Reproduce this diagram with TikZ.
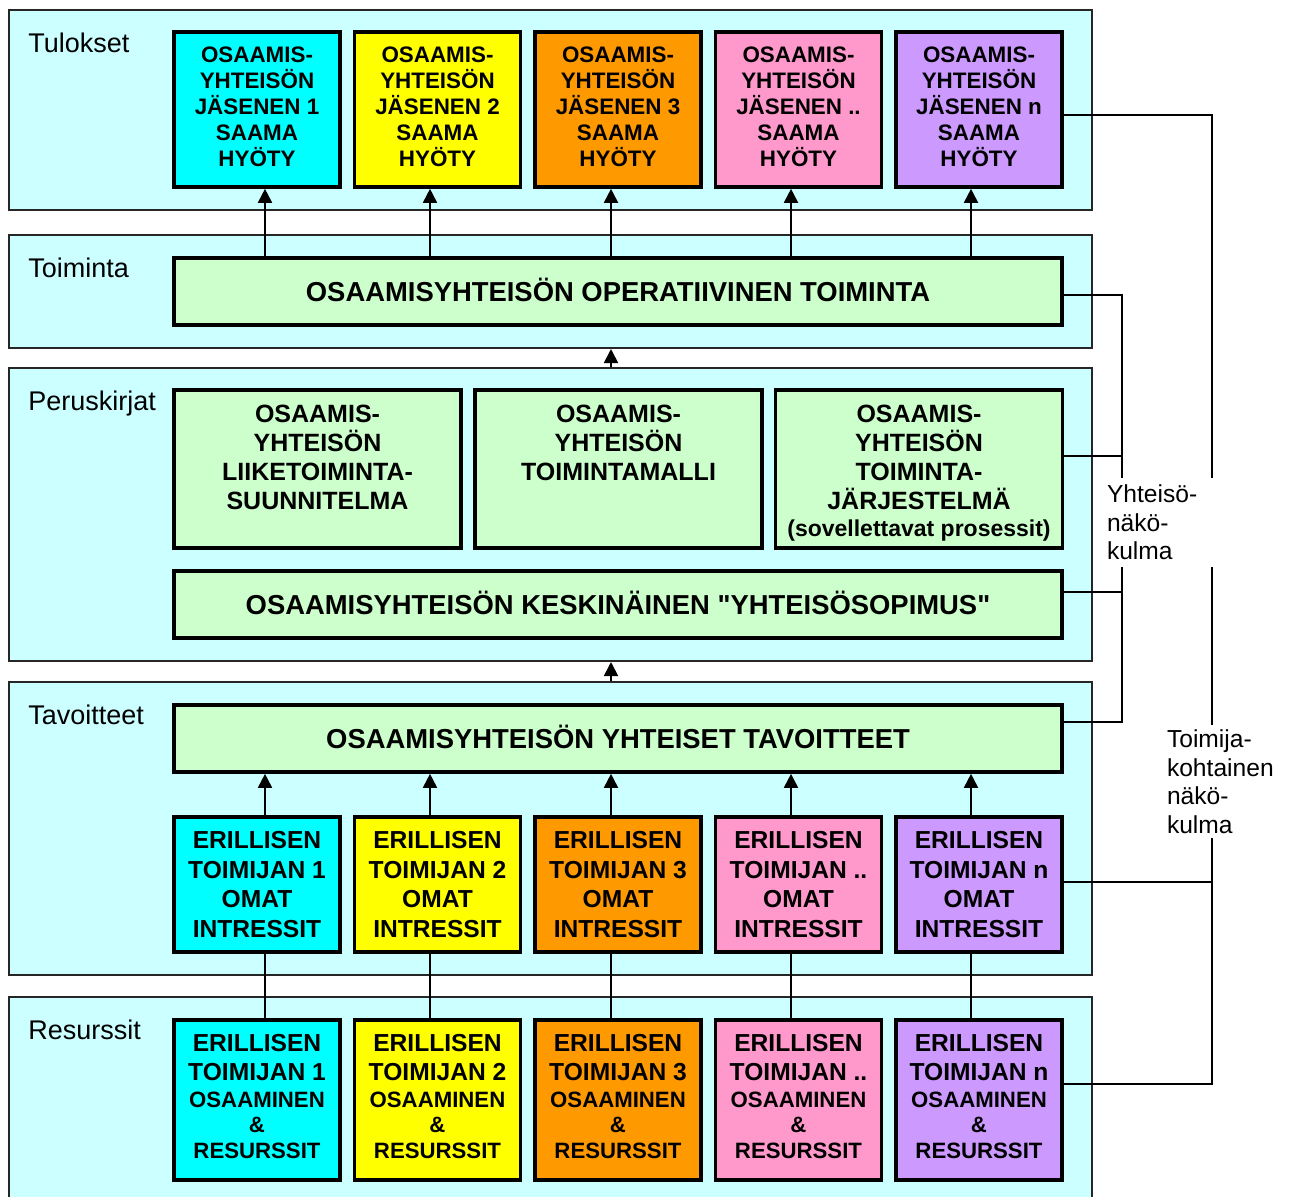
\documentclass[tikz,border=0pt]{standalone}
\usepackage{fontspec}
\setmainfont{Liberation Sans}[Ligatures=TeXOff]
\usetikzlibrary{arrows.meta,positioning}
\definecolor{panelc}{HTML}{CCFFFF}
\definecolor{greenc}{HTML}{CCFFCC}
\definecolor{cyanc}{HTML}{00FFFF}
\definecolor{yellowc}{HTML}{FFFF00}
\definecolor{orangec}{HTML}{FF9900}
\definecolor{pinkc}{HTML}{FF99CC}
\definecolor{lilac}{HTML}{CC99FF}
\newcommand{\smallbf}{\fontsize{11.1}{12.8}\selectfont}
\tikzset{
        layer/.style = {draw=black!85, line width=1pt, fill=panelc,
            minimum width=541.5pt, inner sep=0pt},
        layertag/.style = {anchor=north west, inner sep=0pt,
            font=\fontsize{13.5}{16}\selectfont},
        colbox/.style = {draw=black, line width=1.8pt, align=center,
            inner sep=0pt, minimum width=83pt},
        tulbox/.style = {colbox, minimum height=77.5pt, text depth=3pt,
            font=\fontsize{11.2}{13}\selectfont\bfseries},
        omabox/.style = {colbox, minimum height=67.5pt,
            font=\fontsize{12.3}{14.8}\selectfont\bfseries},
        resbox/.style = {colbox, minimum height=80pt, text depth=3.5pt,
            font=\fontsize{12.3}{14.5}\selectfont\bfseries},
        widebox/.style = {draw=black, line width=1.8pt, fill=greenc,
            minimum width=444pt, minimum height=33.5pt, inner sep=0pt,
            text height=9.8pt, text depth=0pt,
            font=\fontsize{13.7}{16}\selectfont\bfseries},
        pkbox/.style = {draw=black, line width=1.8pt, fill=greenc,
            minimum width=143.5pt, minimum height=79pt, inner sep=0pt},
        pktext/.style = {anchor=north, yshift=-8pt, inner sep=0pt, align=center,
            font=\fontsize{12.5}{14.5}\selectfont\bfseries},
        wire/.style = {line width=0.9pt},
        view/.style = {fill=white, align=left, inner ysep=1pt,
            font=\fontsize{12.3}{14.3}\selectfont}
    }

\begin{document}
\begin{tikzpicture}[x=0.5pt,y=-0.5pt,>={Triangle[length=7pt,width=7pt]}]
    \useasboundingbox (0,0) rectangle (1290,1196);
    % LAYERS
    \node [layer, minimum height=100pt] (tul) at (550.5,110) {};
    \node [layer, minimum height=56.5pt] (toim) at (550.5,291.5) {};
    \node [layer, minimum height=146.5pt] (pk) at (550.5,514.5) {};
    \node [layer, minimum height=146.5pt] (tav) at (550.5,828.5) {};
    \node [layer, minimum height=104pt] (res) at (550.5,1101) {};
    \node [layertag] (tultag) at ([shift={(20,24)}]tul.north west) {Tulokset};
    \node [layertag] (toimtag) at ([shift={(20,24)}]toim.north west) {Toiminta};
    \node [layertag] (pktag) at ([shift={(20,24)}]pk.north west) {Peruskirjat};
    \node [layertag] (tavtag) at ([shift={(20,24)}]tav.north west) {Tavoitteet};
    \node [layertag] (restag) at ([shift={(20,24)}]res.north west) {Resurssit};
    % COMMON BOXES
    \node [widebox] (ops) at (618,291.5) {OSAAMISYHTEISÖN OPERATIIVINEN TOIMINTA};
    \node [pkbox, label={[pktext]north:{OSAAMIS-\\YHTEISÖN\\LIIKETOIMINTA-\\SUUNNITELMA}}]
        (pk1) at (317.5,469) {};
    \node [pkbox, label={[pktext]north:{OSAAMIS-\\YHTEISÖN\\TOIMINTAMALLI}}]
        (pk2) at (618.5,469) {};
    \node [pkbox, label={[pktext]north:{OSAAMIS-\\YHTEISÖN\\TOIMINTA-\\JÄRJESTELMÄ\\[-1pt]
        {\fontsize{11.5}{13}\selectfont (sovellettavat prosessit)}}}]
        (pk3) at (919,469) {};
    \node [widebox] (kesk) at (618,604.5)
        {OSAAMISYHTEISÖN KESKINÄINEN "YHTEISÖSOPIMUS"};
    \node [widebox] (yht) at (618,738.5) {OSAAMISYHTEISÖN YHTEISET TAVOITTEET};
    % MEMBER COLUMNS
    \foreach \n/\c/\ax [count=\i, evaluate=\i as \xc using 257+180.5*(\i-1)] in
        {1/cyanc/265, 2/yellowc/430, 3/orangec/611, ../pinkc/791, n/lilac/971} {
        \coordinate (c\i) at (\ax,0);
        \node [tulbox, fill=\c] (t\i) at (\xc,109.5)
            {OSAAMIS-\\YHTEISÖN\\JÄSENEN \n\\SAAMA\\HYÖTY};
        \node [omabox, fill=\c] (i\i) at (\xc,884.5)
            {ERILLISEN\\TOIMIJAN \n\\OMAT\\INTRESSIT};
        \node [resbox, fill=\c] (r\i) at (\xc,1100)
            {ERILLISEN\\TOIMIJAN \n\\[-1pt]{\smallbf OSAAMINEN}\\[-2pt]{\smallbf \&}\\[-1.5pt]{\smallbf RESURSSIT}};
        \draw [->, wire] (ops.north -| c\i) -- (t\i.south -| c\i);
        \draw [->, wire] (i\i.north -| c\i) -- (yht.south -| c\i);
        \draw [wire] (r\i.north -| c\i) -- (i\i.south -| c\i);
    }
    \draw [->, wire] (pk.north -| c3) -- (toim.south -| c3);
    \draw [->, wire] (tav.north -| c3) -- (pk.south -| c3);
    % VIEWPOINTS
    \coordinate (ytop) at (1122,295);
    \coordinate (ypk) at (1122,456);
    \coordinate (ykk) at (1122,592);
    \coordinate (ybot) at (1122,722);
    \draw [wire] (ops.east |- ytop) -- (ytop) -- (ybot) -- (yht.east |- ybot);
    \draw [wire] (pk3.east |- ypk) -- (ypk);
    \draw [wire] (kesk.east |- ykk) -- (ykk);
    \coordinate (ttop) at (1212,115);
    \coordinate (tmid) at (1212,882);
    \coordinate (tbot) at (1212,1084);
    \draw [wire] (t5.east |- ttop) -- (ttop) -- (tbot) -- (r5.east |- tbot);
    \draw [wire] (i5.east |- tmid) -- (tmid);
    \node [view, text width=50pt, inner xsep=3.5pt, minimum height=44.5pt]
        (yview) at (1157,522.5) {Yhteisö-\\näkö-\\kulma};
    \node [view, text width=58pt, inner xsep=2.5pt, minimum height=56.5pt]
        (tview) at (1225,781.5) {Toimija-\\kohtainen\\näkö-\\kulma};
\end{tikzpicture}
\end{document}
